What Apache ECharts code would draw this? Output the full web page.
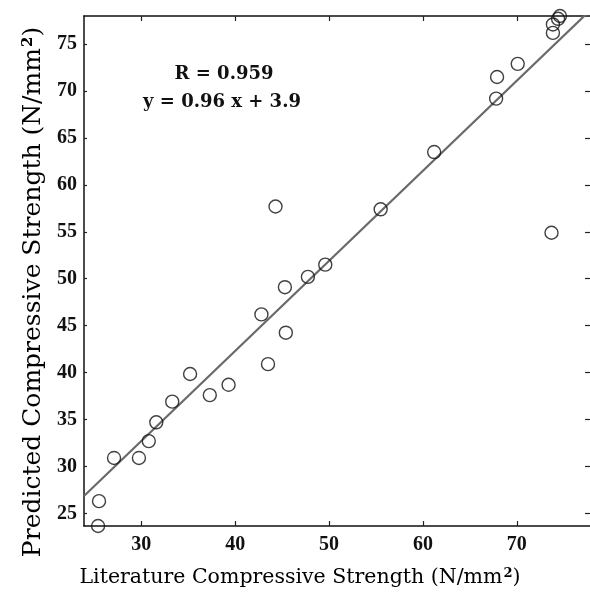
<!DOCTYPE html>
<html>
<head>
<meta charset="utf-8">
<script src="https://cdn.jsdelivr.net/npm/echarts@6/dist/echarts.min.js"></script>
<style>
  html, body { margin: 0; padding: 0; background: #fff; }
  #chart { width: 590px; height: 594px; }
</style>
</head>
<body>
<div id="chart"></div>
<script>
// Literature vs predicted compressive strength (N/mm^2)
const literature = [25.5, 25.4, 27.1, 29.75, 30.8, 31.6, 33.3, 35.2, 37.3, 39.3,
  42.8, 43.5, 45.4, 45.3, 44.3, 47.75, 49.6, 55.5, 61.2, 67.8,
  67.9, 70.1, 73.7, 73.85, 73.85, 74.4, 74.6];
const predicted = [26.3, 23.65, 30.9, 30.9, 32.7, 34.7, 36.9, 39.85, 37.6, 38.7,
  46.2, 40.9, 44.25, 49.1, 57.7, 50.2, 51.5, 57.4, 63.5, 69.2,
  71.5, 72.9, 54.9, 76.2, 77.1, 77.7, 78.0];

// Least-squares fit as printed on the chart
const fitSlope = 0.96;
const fitIntercept = 3.9;
const fitX = [23.9, 77.8];

const xTicks = [30, 40, 50, 60, 70];
const yTicks = [25, 30, 35, 40, 45, 50, 55, 60, 65, 70, 75];

const xRange = [23.9, 77.8];
const yRange = [23.65, 78.0];

const serif = '"Liberation Serif", "DejaVu Serif", serif';
const wideSerif = '"DejaVu Serif", "Liberation Serif", serif';

const points = literature.map((x, i) => [x, predicted[i]]);
const fitLine = fitX.map(x => [x, fitSlope * x + fitIntercept]);

const chart = echarts.init(document.getElementById('chart'), null, { renderer: 'canvas' });

const baseAxis = {
  type: 'value',
  axisLine: { show: true, onZero: false, lineStyle: { color: '#111', width: 1.5 } },
  splitLine: { show: false },
  axisTick: { show: true, inside: true, length: 5, lineStyle: { color: '#222', width: 1.2 } }
};

chart.setOption({
  animation: false,
  backgroundColor: '#fff',
  grid: { left: 84, top: 16, right: 0, bottom: 68, containLabel: false },
  xAxis: [
    Object.assign({}, baseAxis, {
      position: 'bottom', min: xRange[0], max: xRange[1],
      axisTick: Object.assign({}, baseAxis.axisTick, { customValues: xTicks }),
      axisLabel: {
        customValues: xTicks, margin: 9, color: '#111',
        fontFamily: serif, fontSize: 20, fontWeight: 'bold'
      }
    }),
    Object.assign({}, baseAxis, {
      position: 'top', min: xRange[0], max: xRange[1],
      axisTick: Object.assign({}, baseAxis.axisTick, { customValues: xTicks }),
      axisLabel: { show: false }
    })
  ],
  yAxis: [
    Object.assign({}, baseAxis, {
      position: 'left', min: yRange[0], max: yRange[1],
      axisTick: Object.assign({}, baseAxis.axisTick, { customValues: yTicks, length: 3 }),
      axisLabel: {
        customValues: yTicks, margin: 7, color: '#111',
        fontFamily: serif, fontSize: 20, fontWeight: 'bold'
      }
    }),
    Object.assign({}, baseAxis, {
      position: 'right', min: yRange[0], max: yRange[1],
      axisLine: { show: false },
      axisTick: Object.assign({}, baseAxis.axisTick, { customValues: yTicks }),
      axisLabel: { show: false }
    })
  ],
  series: [
    {
      type: 'line',
      data: fitLine,
      xAxisIndex: 0, yAxisIndex: 0,
      showSymbol: false,
      clip: true,
      lineStyle: { color: '#6a6a6a', width: 2.2 },
      z: 2
    },
    {
      type: 'scatter',
      data: points,
      xAxisIndex: 0, yAxisIndex: 0,
      symbol: 'circle',
      symbolSize: 13,
      clip: false,
      itemStyle: { color: 'rgba(255,255,255,0)', borderColor: '#111', borderWidth: 1.4 },
      z: 3
    }
  ],
  graphic: [
    {
      type: 'text', x: 224, y: 74,
      style: {
        text: 'R = 0.959', align: 'center', verticalAlign: 'middle',
        font: 'bold 18px ' + wideSerif, fill: '#111'
      }
    },
    {
      type: 'text', x: 222, y: 102,
      style: {
        text: 'y = 0.96 x + 3.9', align: 'center', verticalAlign: 'middle',
        font: 'bold 18px ' + wideSerif, fill: '#111'
      }
    },
    {
      type: 'text', x: 300, y: 578,
      style: {
        text: '{t|Literature Compressive Strength (N/mm}{s|2}{t|)}',
        align: 'center', verticalAlign: 'middle',
        rich: {
          t: { fontFamily: wideSerif, fontSize: 20.5, color: '#111' },
          s: { fontFamily: wideSerif, fontSize: 13, fontWeight: 'bold', color: '#111', verticalAlign: 'top', padding: [0, 0, 8, 1] }
        }
      }
    },
    {
      type: 'text', x: 33, y: 292, rotation: Math.PI / 2,
      style: {
        text: '{t|Predicted Compressive Strength (N/mm}{s|2}{t|)}',
        align: 'center', verticalAlign: 'middle',
        rich: {
          t: { fontFamily: wideSerif, fontSize: 25, color: '#111' },
          s: { fontFamily: wideSerif, fontSize: 15, fontWeight: 'bold', color: '#111', verticalAlign: 'top', padding: [0, 0, 9, 1] }
        }
      }
    }
  ]
});
</script>
</body>
</html>
